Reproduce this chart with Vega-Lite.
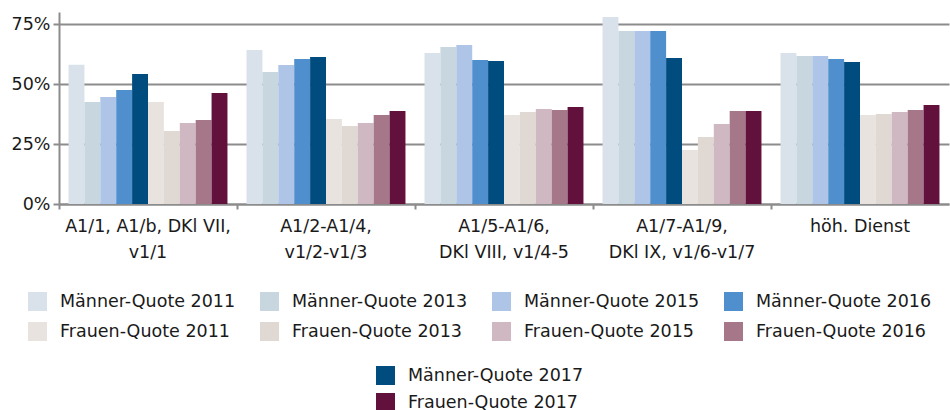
{
  "$schema": "https://vega.github.io/schema/vega-lite/v6.json",
  "width": 890,
  "height": 192,
  "autosize": "none",
  "padding": {"left": 59, "top": 12, "right": 1, "bottom": 206},
  "background": "white",
  "config": {
    "font": "DejaVu Sans",
    "view": {"stroke": null},
    "axis": {"labelFont": "DejaVu Sans", "labelColor": "#1a1a1a", "labelFontSize": 17.5},
    "legend": {"labelFont": "DejaVu Sans", "labelFontSize": 17.5, "labelColor": "#1a1a1a", "labelLimit": 400}
  },
  "data": {
    "values": [
      {"cat": "A1/1, A1/b, DKl VII,|v1/1", "series": "Männer-Quote 2011", "value": 58},
      {"cat": "A1/1, A1/b, DKl VII,|v1/1", "series": "Männer-Quote 2013", "value": 42.5},
      {"cat": "A1/1, A1/b, DKl VII,|v1/1", "series": "Männer-Quote 2015", "value": 44.6},
      {"cat": "A1/1, A1/b, DKl VII,|v1/1", "series": "Männer-Quote 2016", "value": 47.5},
      {"cat": "A1/1, A1/b, DKl VII,|v1/1", "series": "Männer-Quote 2017", "value": 54.2},
      {"cat": "A1/1, A1/b, DKl VII,|v1/1", "series": "Frauen-Quote 2011", "value": 42.5},
      {"cat": "A1/1, A1/b, DKl VII,|v1/1", "series": "Frauen-Quote 2013", "value": 30.4},
      {"cat": "A1/1, A1/b, DKl VII,|v1/1", "series": "Frauen-Quote 2015", "value": 33.8},
      {"cat": "A1/1, A1/b, DKl VII,|v1/1", "series": "Frauen-Quote 2016", "value": 35},
      {"cat": "A1/1, A1/b, DKl VII,|v1/1", "series": "Frauen-Quote 2017", "value": 46.2},
      {"cat": "A1/2-A1/4,|v1/2-v1/3", "series": "Männer-Quote 2011", "value": 64.2},
      {"cat": "A1/2-A1/4,|v1/2-v1/3", "series": "Männer-Quote 2013", "value": 55},
      {"cat": "A1/2-A1/4,|v1/2-v1/3", "series": "Männer-Quote 2015", "value": 57.9},
      {"cat": "A1/2-A1/4,|v1/2-v1/3", "series": "Männer-Quote 2016", "value": 60.4},
      {"cat": "A1/2-A1/4,|v1/2-v1/3", "series": "Männer-Quote 2017", "value": 61.2},
      {"cat": "A1/2-A1/4,|v1/2-v1/3", "series": "Frauen-Quote 2011", "value": 35.4},
      {"cat": "A1/2-A1/4,|v1/2-v1/3", "series": "Frauen-Quote 2013", "value": 32.5},
      {"cat": "A1/2-A1/4,|v1/2-v1/3", "series": "Frauen-Quote 2015", "value": 33.8},
      {"cat": "A1/2-A1/4,|v1/2-v1/3", "series": "Frauen-Quote 2016", "value": 37.1},
      {"cat": "A1/2-A1/4,|v1/2-v1/3", "series": "Frauen-Quote 2017", "value": 38.8},
      {"cat": "A1/5-A1/6,|DKl VIII, v1/4-5", "series": "Männer-Quote 2011", "value": 62.9},
      {"cat": "A1/5-A1/6,|DKl VIII, v1/4-5", "series": "Männer-Quote 2013", "value": 65.4},
      {"cat": "A1/5-A1/6,|DKl VIII, v1/4-5", "series": "Männer-Quote 2015", "value": 66.2},
      {"cat": "A1/5-A1/6,|DKl VIII, v1/4-5", "series": "Männer-Quote 2016", "value": 60},
      {"cat": "A1/5-A1/6,|DKl VIII, v1/4-5", "series": "Männer-Quote 2017", "value": 59.6},
      {"cat": "A1/5-A1/6,|DKl VIII, v1/4-5", "series": "Frauen-Quote 2011", "value": 37.1},
      {"cat": "A1/5-A1/6,|DKl VIII, v1/4-5", "series": "Frauen-Quote 2013", "value": 38.3},
      {"cat": "A1/5-A1/6,|DKl VIII, v1/4-5", "series": "Frauen-Quote 2015", "value": 39.6},
      {"cat": "A1/5-A1/6,|DKl VIII, v1/4-5", "series": "Frauen-Quote 2016", "value": 39.2},
      {"cat": "A1/5-A1/6,|DKl VIII, v1/4-5", "series": "Frauen-Quote 2017", "value": 40.4},
      {"cat": "A1/7-A1/9,|DKl IX, v1/6-v1/7", "series": "Männer-Quote 2011", "value": 77.9},
      {"cat": "A1/7-A1/9,|DKl IX, v1/6-v1/7", "series": "Männer-Quote 2013", "value": 72.1},
      {"cat": "A1/7-A1/9,|DKl IX, v1/6-v1/7", "series": "Männer-Quote 2015", "value": 72.1},
      {"cat": "A1/7-A1/9,|DKl IX, v1/6-v1/7", "series": "Männer-Quote 2016", "value": 72.1},
      {"cat": "A1/7-A1/9,|DKl IX, v1/6-v1/7", "series": "Männer-Quote 2017", "value": 60.8},
      {"cat": "A1/7-A1/9,|DKl IX, v1/6-v1/7", "series": "Frauen-Quote 2011", "value": 22.5},
      {"cat": "A1/7-A1/9,|DKl IX, v1/6-v1/7", "series": "Frauen-Quote 2013", "value": 27.9},
      {"cat": "A1/7-A1/9,|DKl IX, v1/6-v1/7", "series": "Frauen-Quote 2015", "value": 33.3},
      {"cat": "A1/7-A1/9,|DKl IX, v1/6-v1/7", "series": "Frauen-Quote 2016", "value": 38.8},
      {"cat": "A1/7-A1/9,|DKl IX, v1/6-v1/7", "series": "Frauen-Quote 2017", "value": 38.8},
      {"cat": "höh. Dienst", "series": "Männer-Quote 2011", "value": 62.9},
      {"cat": "höh. Dienst", "series": "Männer-Quote 2013", "value": 61.7},
      {"cat": "höh. Dienst", "series": "Männer-Quote 2015", "value": 61.7},
      {"cat": "höh. Dienst", "series": "Männer-Quote 2016", "value": 60.4},
      {"cat": "höh. Dienst", "series": "Männer-Quote 2017", "value": 59.2},
      {"cat": "höh. Dienst", "series": "Frauen-Quote 2011", "value": 37.1},
      {"cat": "höh. Dienst", "series": "Frauen-Quote 2013", "value": 37.5},
      {"cat": "höh. Dienst", "series": "Frauen-Quote 2015", "value": 38.3},
      {"cat": "höh. Dienst", "series": "Frauen-Quote 2016", "value": 39.2},
      {"cat": "höh. Dienst", "series": "Frauen-Quote 2017", "value": 41.2}
    ]
  },
  "encoding": {
    "x": {
      "field": "cat",
      "type": "nominal",
      "sort": null,
      "scale": {"paddingInner": 0, "paddingOuter": 0},
      "axis": {
        "title": null,
        "labelAngle": 0,
        "labelExpr": "split(datum.label, '|')",
        "labelLineHeight": 26,
        "labelPadding": 8,
        "labelBaseline": "top",
        "labelLimit": 400,
        "domainColor": "#8c8c8c",
        "domainWidth": 2,
        "tickColor": "#8c8c8c",
        "tickWidth": 2,
        "tickSize": 5,
        "bandPosition": 0,
        "grid": false
      }
    },
    "xOffset": {
      "field": "series",
      "type": "nominal",
      "scale": {
        "domain": ["Männer-Quote 2011", "Männer-Quote 2013", "Männer-Quote 2015", "Männer-Quote 2016", "Männer-Quote 2017", "Frauen-Quote 2011", "Frauen-Quote 2013", "Frauen-Quote 2015", "Frauen-Quote 2016", "Frauen-Quote 2017"],
        "paddingInner": 0,
        "paddingOuter": 0.6
      }
    },
    "y": {
      "field": "value",
      "type": "quantitative",
      "scale": {"domain": [0, 80], "nice": false},
      "axis": {
        "title": null,
        "values": [0, 25, 50, 75],
        "labelExpr": "datum.value + '%'",
        "labelPadding": 3,
        "domainColor": "#8c8c8c",
        "domainWidth": 2,
        "tickColor": "#8c8c8c",
        "tickWidth": 2,
        "tickSize": 6,
        "grid": true,
        "gridColor": "#8c8c8c",
        "gridWidth": 2
      }
    }
  },
  "layer": [
    {
      "transform": [{"filter": "indexof(datum.series, '2017') < 0"}],
      "mark": {"type": "bar"},
      "encoding": {
        "color": {
          "field": "series",
          "type": "nominal",
          "scale": {
            "domain": ["Männer-Quote 2011", "Männer-Quote 2013", "Männer-Quote 2015", "Männer-Quote 2016", "Frauen-Quote 2011", "Frauen-Quote 2013", "Frauen-Quote 2015", "Frauen-Quote 2016"],
            "range": ["#d9e2ea", "#c8d6e0", "#afc5e7", "#4f8fce", "#e8e3df", "#e0d8d3", "#d0b8c2", "#a57789"]
          },
          "legend": {
            "title": null,
            "orient": "none",
            "direction": "horizontal",
            "legendX": -31,
            "legendY": 280,
            "columns": 4,
            "columnPadding": 24,
            "rowPadding": 11,
            "symbolType": "square",
            "symbolSize": 361,
            "symbolStrokeWidth": 0,
            "labelOffset": 13,
            "labelLimit": 400,
            "padding": 0
          }
        }
      }
    },
    {
      "transform": [{"filter": "indexof(datum.series, '2017') >= 0"}],
      "mark": {"type": "bar"},
      "encoding": {
        "color": {
          "field": "series",
          "type": "nominal",
          "scale": {
            "domain": ["Männer-Quote 2017", "Frauen-Quote 2017"],
            "range": ["#004c7e", "#62113c"]
          },
          "legend": {
            "title": null,
            "orient": "none",
            "direction": "vertical",
            "legendX": 317,
            "legendY": 354,
            "columns": 1,
            "rowPadding": 8,
            "symbolType": "square",
            "symbolSize": 361,
            "symbolStrokeWidth": 0,
            "labelOffset": 13,
            "labelLimit": 400,
            "padding": 0
          }
        }
      }
    }
  ],
  "resolve": {"scale": {"color": "independent"}, "legend": {"color": "independent"}}
}
